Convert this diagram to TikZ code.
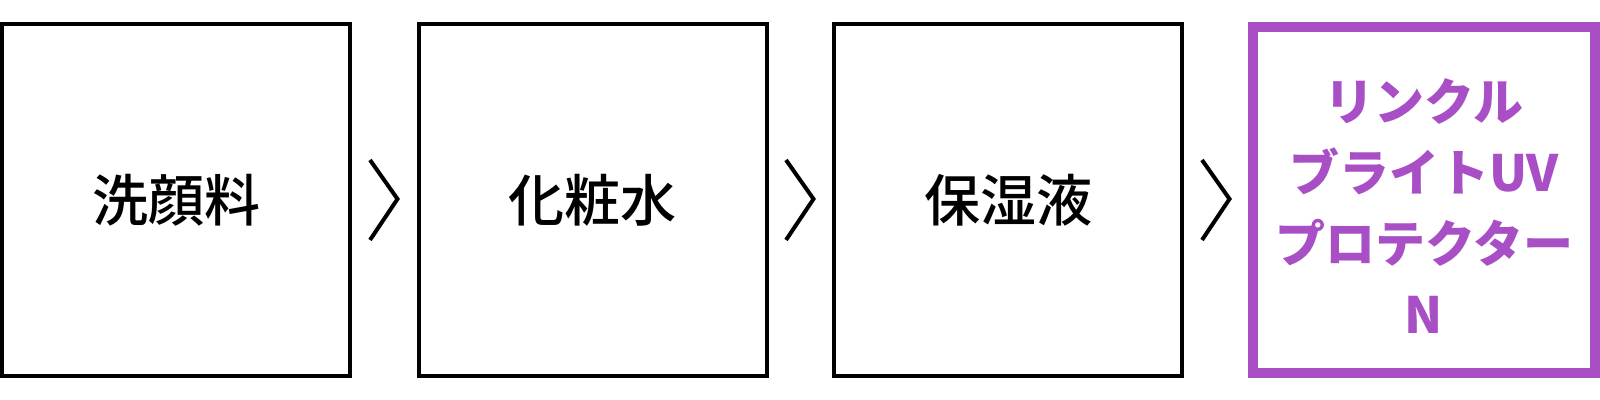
\documentclass[tikz,border=0pt]{standalone}
\usepackage{fontspec}
\newfontfamily\jp{Noto Sans CJK JP}
\newfontfamily\jpm{Noto Sans CJK JP Medium}
\definecolor{prp}{RGB}{168,79,198}
\tikzset{
  stepbox/.style={draw=black, line width=2pt, minimum width=174pt, minimum height=176pt, inner sep=0pt, font=\jpm\fontsize{28}{34}\selectfont},
  lastbox/.style={draw=prp, line width=5pt, minimum width=171pt, minimum height=173pt, inner sep=0pt, text=prp, align=center, font=\jp\bfseries\fontsize{25}{35.5}\selectfont},
  chev/.style={draw=black, line width=2pt}
}
\begin{document}
\begin{tikzpicture}[x=0.5pt,y=0.5pt]
\useasboundingbox (0,0) rectangle (1600,400);
\node[stepbox] (b1) at (176,200) {洗顔料};
\node[stepbox] (b2) at (592.5,200) {化粧水};
\node[stepbox] (b3) at (1008,200) {保湿液};
\node[lastbox] (b4) at (1424,200) {};
\node[text=prp, align=center, inner sep=0pt, font=\jp\bfseries\fontsize{25}{35.5}\selectfont] (t4) at (1424,194) {リンクル\\ブライトUV\\プロテクター\\N};
\coordinate (c1a) at (370,240); \coordinate (c1b) at (397.5,201); \coordinate (c1c) at (370,160);
\coordinate (c2a) at (786,240); \coordinate (c2b) at (813.5,201); \coordinate (c2c) at (786,160);
\coordinate (c3a) at (1202,240); \coordinate (c3b) at (1229.5,201); \coordinate (c3c) at (1202,160);
\draw[chev] (c1a) -- (c1b) -- (c1c);
\draw[chev] (c2a) -- (c2b) -- (c2c);
\draw[chev] (c3a) -- (c3b) -- (c3c);
\end{tikzpicture}
\end{document}
